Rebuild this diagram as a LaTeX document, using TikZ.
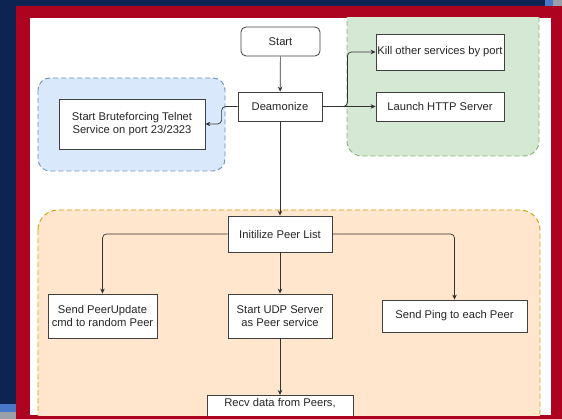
\documentclass[tikz,border=0pt]{standalone}
\usepackage{fontspec}
\setmainfont{Liberation Sans}
\usepackage{xcolor}
\usetikzlibrary{arrows.meta,positioning}
\definecolor{navy}{HTML}{0D2352}
\definecolor{frame}{HTML}{AD0220}
\definecolor{patchblue}{HTML}{4A78C8}
\definecolor{patchgray}{HTML}{9AA0AA}
\definecolor{bluefill}{HTML}{DAE8FC}
\definecolor{bluedraw}{HTML}{6C8EBF}
\definecolor{greenfill}{HTML}{D5E8D4}
\definecolor{greendraw}{HTML}{82B366}
\definecolor{orangefill}{HTML}{FFE6CC}
\definecolor{orangedraw}{HTML}{D79B00}

\begin{document}
\begin{tikzpicture}[x=1pt,y=-1pt,>={Stealth[length=5pt,width=4.5pt]},
  box/.style={draw=black!75,line width=0.8pt,fill=white,align=center,inner sep=0pt,text=black!85,
    font=\fontsize{11.2}{13.5}\selectfont},
  grp/.style={dash pattern=on 5pt off 3pt,line width=0.9pt,rounded corners=#1},
  link/.style={->,draw=black!80,line width=0.7pt,rounded corners=4pt}]
\fill[navy] (0,0) rectangle (562,419);
\fill[patchblue] (545,0) rectangle (553,6);
\fill[patchgray] (553,0) rectangle (562,6);
\fill[patchblue] (0,404) rectangle (16,412);
\fill[patchgray] (0,412) rectangle (16,419);
\fill[frame] (16,6) rectangle (562,419);
\fill[white] (30,18) rectangle (551,415);
\begin{scope}
\clip (30,18) rectangle (551,415);
\draw[grp=12pt,draw=bluedraw,fill=bluefill] (38,78) rectangle (225,171);
\draw[grp=15pt,draw=greendraw,fill=greenfill] (347,-10) rectangle (539,156);
\draw[grp=20pt,draw=orangedraw,fill=orangefill] (38,210) rectangle (540,460);

\node[box,rounded corners=5pt,minimum width=79pt,minimum height=29pt] (start) at (280.5,41.5) {Start};
\node[box,minimum width=84pt,minimum height=29pt] (daemon) at (280,106.5) {Deamonize};
\node[box,minimum width=146pt,minimum height=50pt] (brute) at (132,124) {Start Bruteforcing Telnet\\Service on port 23/2323};
\node[box,minimum width=128pt,minimum height=36pt] (kill) at (440,52) {Kill other services by port};
\node[box,minimum width=128pt,minimum height=29pt] (http) at (440,106.5) {Launch HTTP Server};
\node[box,minimum width=104pt,minimum height=36pt] (init) at (280,234) {Initilize Peer List};
\node[box,minimum width=109pt,minimum height=44pt] (upd) at (102.5,316) {Send PeerUpdate\\cmd to random Peer};
\node[box,minimum width=104pt,minimum height=44pt] (udp) at (280,316) {Start UDP Server\\as Peer service};
\node[box,minimum width=145pt,minimum height=32pt] (ping) at (454.5,316) {Send Ping to each Peer};
\node[box,anchor=north,minimum width=146pt,inner ysep=3pt,text depth=24pt] (recv) at (280,395) {Recv data from Peers,};

\draw[link] (start) -- (daemon);
\draw[link] (daemon.west) -- ++(-16,0) |- (brute.east);
\draw[link] (daemon.east) -- ++(25,0) |- (kill.west);
\draw[link] (daemon) -- (http);
\draw[link] (daemon) -- (init);
\draw[link] (init.west) -| (upd.north);
\draw[link] (init.east) -| (ping.north);
\draw[link] (init) -- (udp);
\draw[link] (udp) -- (recv);
\end{scope}
\end{tikzpicture}
\end{document}
